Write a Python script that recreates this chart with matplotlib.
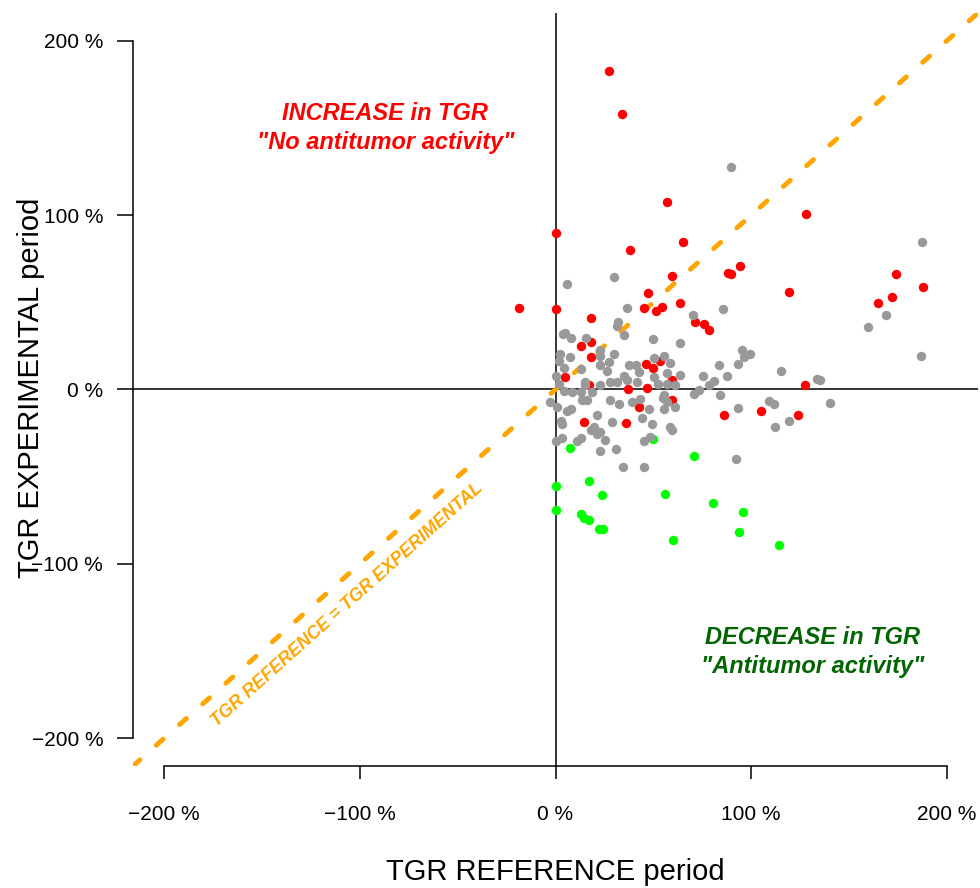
import matplotlib
matplotlib.use("Agg")
import matplotlib.pyplot as plt

plt.rcParams['font.family'] = ['Liberation Sans', 'DejaVu Sans']

# TGR values (%), reference period vs experimental period
red_ref = [27.6, 34.2, 57.2, 128.2, 0.5, 65.4, 38.3, 94.5, 88.4, 89.9, 59.8, 174.2,
           188.0, 172.2, 165.0, 119.5, 47.5, 63.9, -18.9, 0.5, 45.0, 51.6, 54.2, 71.5,
           76.1, 78.7, 18.4, 12.8, 18.4, 18.4, 46.5, 50.0, 53.6, 5.1, 59.8, 37.3,
           47.0, 59.8, 42.9, 14.8, 35.8, 16.9, 86.3, 105.1, 123.8, 127.6]
red_exp = [182.5, 157.8, 107.3, 100.4, 89.5, 84.4, 79.8, 70.6, 67.1, 66.0, 65.4, 66.0,
           59.0, 52.8, 49.9, 56.2, 55.1, 49.4, 46.5, 45.9, 46.5, 45.3, 47.1, 39.0,
           37.3, 33.9, 41.3, 25.2, 27.5, 18.4, 14.9, 12.1, 16.1, 6.9, 5.2, 0.0,
           1.1, -6.3, -9.8, -18.9, -19.5, 2.3, -14.9, -12.2, -14.9, 2.7]

green_ref = [7.3, 49.9, 70.7, 16.9, 0.5, 23.7, 56.0, 80.4, 95.7, 0.5, 12.8, 14.5,
             17.0, 22.1, 24.4, 59.9, 94.0, 114.1]
green_exp = [-33.5, -28.5, -38.3, -52.6, -55.5, -60.8, -59.9, -65.4, -70.0, -69.1, -71.7, -73.6,
             -74.6, -80.2, -80.2, -86.5, -81.5, -89.4]

grey_ref = [89.9, 187.5, 169.0, 160.0, 187.0, 6.1, 30.1, 36.3, 32.2, 31.2, 35.2, 50.0,
            63.9, 70.5, 85.8, 5.1, 3.6, 7.7, 15.8, 23.0, 22.5, 29.7, 2.2, 7.2,
            1.7, 4.1, 12.8, 27.2, 26.4, 23.0, 37.5, 40.9, 42.6, 34.9, 50.2, 55.3,
            58.7, 57.0, 63.9, 50.2, 52.3, 57.0, 61.3, 41.7, 31.5, 28.1, 23.0, 15.3,
            15.3, 0.0, 1.7, 4.3, 8.5, 12.8, 18.7, 13.6, 16.2, 28.1, 32.3, 39.2,
            43.4, 47.7, 55.3, 57.0, 61.3, 70.7, 0.9, 7.7, 6.0, -2.9, 2.6, 3.4,
            21.3, 29.0, 44.3, 49.4, 58.7, 59.6, 19.6, 17.9, 23.0, 21.3, 12.8, 11.1,
            3.4, 0.0, 25.5, 23.0, 30.7, 45.1, 34.4, 45.1, 95.4, 96.2, 99.6, 83.4,
            93.1, 75.4, 80.9, 78.3, 87.7, 115.5, 133.7, 135.4, 73.2, 83.9, 109.0, 111.5,
            140.5, 93.1, 119.2, 112.4, 92.5, 48.5, 55.3, 55.2, 36.8]
grey_exp = [127.4, 84.9, 42.5, 35.6, 19.0, 60.3, 64.8, 46.5, 39.0, 36.7, 31.0, 28.7,
            26.4, 43.0, 45.9, 32.7, 31.6, 29.8, 29.3, 22.4, 19.5, 20.6, 20.5, 18.6,
            16.6, 12.1, 11.9, 15.7, 10.9, 13.8, 14.3, 14.3, 9.9, 8.0, 17.8, 19.2,
            15.1, 9.4, 8.4, 7.1, 3.3, 3.3, 2.3, 4.2, 4.2, 4.2, 2.3, 4.2,
            2.3, 8.0, 3.3, -0.6, -1.5, -1.5, -1.5, -6.3, -6.3, -6.3, -8.2, -7.3,
            -5.3, -11.1, -3.4, -7.3, -10.2, -2.5, -10.2, -11.1, -12.1, -7.3, -17.8, -19.7,
            -14.9, -18.8, -16.3, -19.7, -21.6, -23.5, -21.6, -23.2, -24.5, -25.5, -27.7, -29.3,
            -27.7, -29.3, -28.9, -35.0, -34.4, -29.3, -44.2, -44.2, 22.8, 18.9, 20.1, 14.3,
            14.7, 7.5, 4.8, 2.3, 7.5, 10.9, 6.1, 5.6, -0.2, -2.9, -6.7, -8.6,
            -7.8, -10.5, -17.8, -21.6, -39.8, -27.0, -11.1, -4.6, 5.2]

ticks = [-200, -100, 0, 100, 200]
tick_labels = ["\u2212200 %", "\u2212100 %", "0 %", "100 %", "200 %"]

fig = plt.figure(figsize=(9.8, 8.88), dpi=100)
ax = fig.add_axes([133 / 980, 122 / 888, 845 / 980, 753 / 888])
ax.set_xlim(-216, 216)
ax.set_ylim(-216, 216)

ax.axhline(0, color="black", lw=1.1, zorder=1)
ax.axvline(0, color="black", lw=1.1, zorder=1)
ax.axline((0, 0), slope=1, color="#FFA500", lw=3.5,
          linestyle=(0, (1.9, 4.5)), dash_capstyle="round", zorder=2)

ax.scatter(red_ref, red_exp, s=46, color="#FF0000", linewidths=0, zorder=3)
ax.scatter(green_ref, green_exp, s=46, color="#00FF00", linewidths=0, zorder=3)
ax.scatter(grey_ref, grey_exp, s=46, color="#999999", linewidths=0, zorder=4)

for side in ["top", "right"]:
    ax.spines[side].set_visible(False)
ax.spines["left"].set_bounds(-200, 200)
ax.spines["bottom"].set_bounds(-200, 200)
ax.spines["left"].set_linewidth(1.1)
ax.spines["bottom"].set_linewidth(1.1)

ax.set_xticks(ticks)
ax.set_xticklabels(tick_labels)
ax.set_yticks(ticks)
ax.set_yticklabels(tick_labels)
ax.tick_params(axis="y", length=11.5, width=1.1, pad=10, labelsize=15)
ax.tick_params(axis="x", length=9, width=1.1, pad=19, labelsize=15)

fig.text(555 / 980, 1 - 872 / 888, "TGR REFERENCE period", fontsize=21,
         ha="center", va="center")
fig.text(31 / 980, 1 - 388 / 888, "TGR EXPERIMENTAL period", fontsize=21,
         ha="center", va="center", rotation=90)

txt = dict(fontsize=17, fontweight="bold", style="italic", ha="center", va="center")
ax.text(-87, 158.4, "INCREASE in TGR", color="#FF0000", **txt)
ax.text(-87, 141.7, "\"No antitumor activity\"", color="#FF0000", **txt)
ax.text(131.3, -142.3, "DECREASE in TGR", color="#006400", **txt)
ax.text(131.3, -159.0, "\"Antitumor activity\"", color="#006400", **txt)

ax.text(-106.3, -123.4, "TGR REFERENCE = TGR EXPERIMENTAL", color="#FFA500",
        fontsize=13, fontweight="bold", style="italic", ha="center", va="center",
        rotation=41.7, rotation_mode="anchor")

fig.savefig("out.png", dpi=100)
